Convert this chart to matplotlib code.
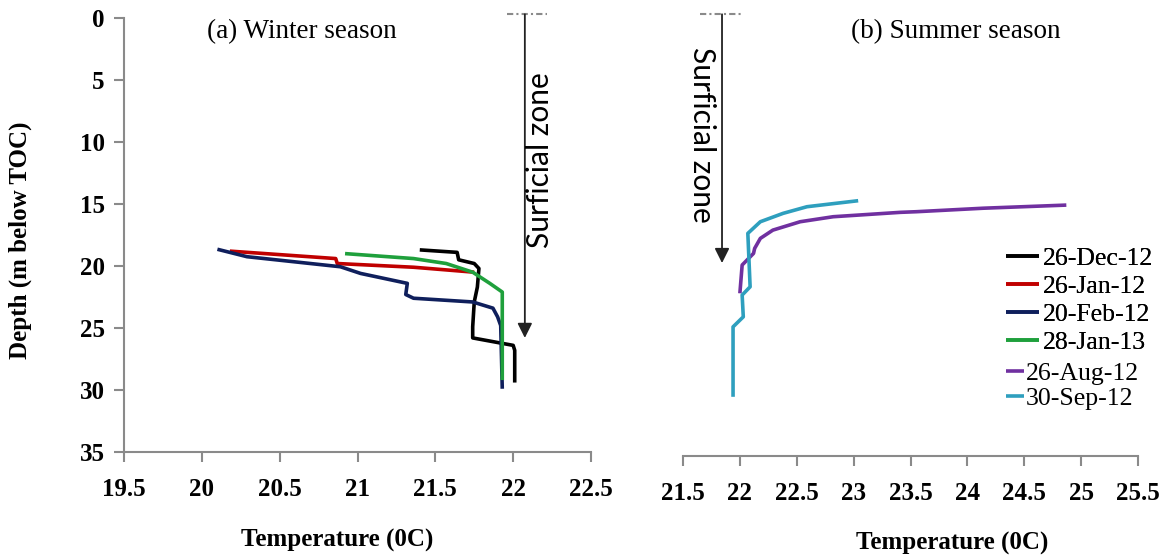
import matplotlib
matplotlib.use("Agg")
import matplotlib.pyplot as plt

plt.rcParams["font.family"] = ["Liberation Serif", "DejaVu Serif"]
plt.rcParams["font.weight"] = "bold"

# --- winter profiles (temperature degC, depth m below TOC) ---
dec12_t = [21.40, 21.64, 21.65, 21.75, 21.78, 21.77, 21.75, 21.74, 21.74, 22.00, 22.01, 22.01]
dec12_d = [18.7, 18.9, 19.5, 19.8, 20.2, 21.7, 22.9, 24.9, 25.8, 26.4, 26.8, 29.4]
jan12_t = [20.18, 20.86, 20.87, 21.36, 21.75]
jan12_d = [18.8, 19.4, 19.8, 20.1, 20.5]
feb12_t = [20.10, 20.29, 20.89, 21.02, 21.32, 21.31, 21.36, 21.74, 21.87, 21.90, 21.92, 21.93]
feb12_d = [18.65, 19.25, 20.06, 20.6, 21.4, 22.3, 22.6, 22.9, 23.4, 24.1, 24.8, 29.9]
jan13_t = [20.92, 21.36, 21.57, 21.74, 21.85, 21.93, 21.93]
jan13_d = [19.0, 19.4, 19.8, 20.5, 21.4, 22.1, 29.2]

# --- summer profiles ---
aug12_t = [24.87, 24.14, 23.55, 23.41, 22.82, 22.53, 22.29, 22.18, 22.13, 22.12, 22.02, 22.00]
aug12_d = [14.95, 15.2, 15.48, 15.53, 15.88, 16.28, 16.95, 17.61, 18.41, 18.81, 19.74, 22.0]
sep12_t = [23.04, 22.59, 22.38, 22.18, 22.07, 22.09, 22.02, 22.03, 21.94, 21.94]
sep12_d = [14.6, 15.08, 15.61, 16.28, 17.21, 21.48, 22.14, 23.88, 24.68, 30.27]

winter_ticks = ["19.5", "20", "20.5", "21", "21.5", "22", "22.5"]
summer_ticks = ["21.5", "22", "22.5", "23", "23.5", "24", "24.5", "25", "25.5"]
depth_ticks = [0, 5, 10, 15, 20, 25, 30, 35]

winter = [("26-Dec-12", dec12_t, dec12_d, "black"),
          ("26-Jan-12", jan12_t, jan12_d, "#C00000"),
          ("20-Feb-12", feb12_t, feb12_d, "#0F1F5C"),
          ("28-Jan-13", jan13_t, jan13_d, "#1FA03C")]
summer = [("26-Aug-12", aug12_t, aug12_d, "#7030A0"),
          ("30-Sep-12", sep12_t, sep12_d, "#2E9FBE")]

W, H = 1171, 559
fig = plt.figure(figsize=(W / 100, H / 100), dpi=100)
ax1 = fig.add_axes([124 / W, 1 - 452 / H, 467 / W, 434 / H])
ax2 = fig.add_axes([683 / W, 1 - 456 / H, 455 / W, 438 / H])

GRAY = "#8A8A8A"
h1, h2 = [], []
for lab, t, d, c in winter:
    h1 += ax1.plot(t, d, color=c, lw=2.6, label=lab, solid_capstyle="butt")
for lab, t, d, c in summer:
    h2 += ax2.plot(t, d, color=c, lw=2.6, label=lab, solid_capstyle="butt")

for ax, ticks in ((ax1, winter_ticks), (ax2, summer_ticks)):
    vals = [float(v) for v in ticks]
    ax.set_xlim(vals[0], vals[-1])
    ax.set_ylim(35, 0)
    ax.set_xticks(vals, ticks)
    for s in ("top", "right"):
        ax.spines[s].set_visible(False)
    ax.spines["bottom"].set_color(GRAY)
    ax.spines["bottom"].set_linewidth(1.5)
    ax.tick_params(axis="x", colors=GRAY, length=7, width=1.5, pad=12,
                   labelcolor="black", labelsize=18)

ax1.set_yticks(depth_ticks, [str(v) for v in depth_ticks])
ax1.spines["left"].set_color(GRAY)
ax1.spines["left"].set_linewidth(1.5)
ax1.tick_params(axis="y", colors=GRAY, length=7, width=1.5, pad=7,
                labelcolor="black", labelsize=18)
ax2.spines["left"].set_visible(False)
ax2.set_yticks([])

ax1.text(0.381, 0.968, "(a) Winter season", transform=ax1.transAxes,
         ha="center", va="center", fontsize=19.5, fontweight="normal")
ax2.text(0.60, 0.968, "(b) Summer season", transform=ax2.transAxes,
         ha="center", va="center", fontsize=19.5, fontweight="normal")

fig.text(20 / W, 1 - 240 / H, "Depth (m below TOC)", rotation=90, ha="center",
         va="center", fontsize=18)
fig.text(337 / W, 1 - 540 / H, "Temperature (0C)", ha="center", va="center", fontsize=18)
fig.text(952 / W, 1 - 543 / H, "Temperature (0C)", ha="center", va="center", fontsize=18)

# surficial zone markers
for ax, (xa, xb), xarr, tip, xt, yt, rot in (
        (ax1, (21.96, 22.22), 22.075, 25.8, 22.172, 11.45, 90),
        (ax2, (21.649, 22.02), 21.843, 19.58, 21.667, 9.35, -90)):
    ax.plot([xa, xb], [-0.3, -0.3], color=GRAY, lw=1.5, ls=(0, (3, 1.5, 1, 1.5)),
            clip_on=False)
    ax.annotate("", xy=(xarr, tip), xytext=(xarr, -0.3),
                arrowprops=dict(arrowstyle="-|>", color="#222222", lw=1.3,
                                mutation_scale=22, shrinkA=0, shrinkB=0),
                annotation_clip=False)
    ax.text(xt, yt, "Surficial zone", rotation=rot, ha="center", va="center",
            fontsize=21.5, fontweight="normal", family=["Lato", "DejaVu Sans"])

legfont = {"size": 18.5, "weight": "normal"}
leg1 = fig.legend(handles=h1, loc="upper left", bbox_to_anchor=(1006 / W, 1 - 247 / H),
                  frameon=False, prop=legfont, handlelength=1.3, handletextpad=0.15,
                  labelspacing=0.19, borderpad=0, borderaxespad=0)
leg2 = fig.legend(handles=h2, loc="upper left", bbox_to_anchor=(1006 / W, 1 - 362 / H),
                  frameon=False, prop=legfont, handlelength=0.7, handletextpad=0.08,
                  labelspacing=0.07, borderpad=0, borderaxespad=0)
fig.add_artist(leg1)

fig.savefig("out.png", dpi=100)
